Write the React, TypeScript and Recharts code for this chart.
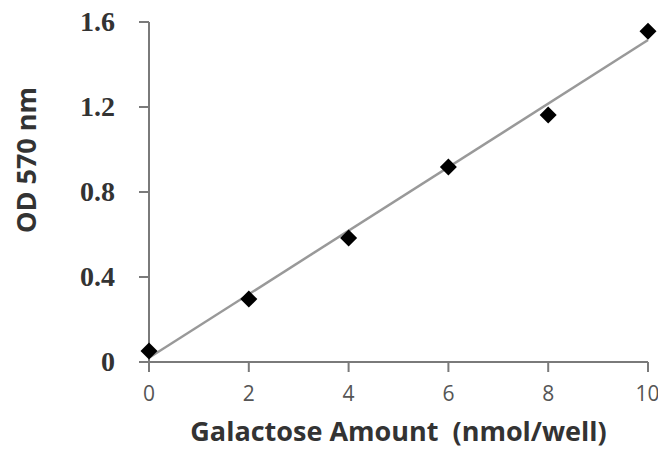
import {
  ComposedChart,
  Scatter,
  Line,
  XAxis,
  YAxis,
  Label,
} from "recharts";

const amounts = [0, 2, 4, 6, 8, 10];
const odValues = [0.052, 0.296, 0.583, 0.918, 1.162, 1.557];
const trendX = [0, 10];
const trendY = [0.02, 1.515];
const xTicks = [0, 2, 4, 6, 8, 10];
const yTicks = [0, 0.4, 0.8, 1.2, 1.6];

const points = amounts.map((x, i) => ({ x, y: odValues[i] }));
const trend = trendX.map((x, i) => ({ x, y: trendY[i] }));

/** Filled square diamond marker. */
function Diamond({ cx, cy }: any) { // eslint-disable-line @typescript-eslint/no-explicit-any
  const r = 8.5;
  return (
    <polygon
      points={`${cx},${cy - r} ${cx + r},${cy} ${cx},${cy + r} ${cx - r},${cy}`}
      fill="#000"
    />
  );
}

const axisColor = "#7a7a7a";
const titleFont = "'Open Sans', sans-serif";

function YTick({ x, y, payload }: any) { // eslint-disable-line @typescript-eslint/no-explicit-any
  return (
    <text
      x={x}
      y={y}
      dy={9}
      textAnchor="end"
      fontFamily="'Liberation Serif', serif"
      fontWeight="bold"
      fontSize={28}
      fill="#333"
    >
      {payload.value === 0 ? "0" : payload.value.toFixed(1)}
    </text>
  );
}

// Y title sits a bit above the plot's middle, like the original
function YTitle({ viewBox }: any) { // eslint-disable-line @typescript-eslint/no-explicit-any
  const cx = viewBox.x + 25;
  const cy = viewBox.y + viewBox.height / 2 - 32;
  return (
    <text
      x={cx}
      y={cy}
      transform={`rotate(-90, ${cx}, ${cy})`}
      textAnchor="middle"
      dominantBaseline="central"
      fontFamily={titleFont}
      fontWeight="bold"
      fontSize={27}
      fill="#333"
    >
      OD 570 nm
    </text>
  );
}

export default function App() {
  return (
    <div style={{ position: "absolute", left: 0, top: 0, background: "#fff" }}>
      <ComposedChart
        width={658}
        height={450}
        margin={{ top: 22, right: 10, left: 0, bottom: 0 }}
      >
        <XAxis
          type="number"
          dataKey="x"
          domain={[0, 10]}
          ticks={xTicks}
          height={88}
          stroke={axisColor}
          strokeWidth={2}
          tickSize={10}
          tickMargin={14}
          tick={{ fontSize: 21, fill: "#555", fontFamily: titleFont }}
        >
          <Label
            value={"Galactose Amount\u00a0\u00a0(nmol/well)"}
            position="insideBottom"
            offset={9}
            style={{
              fontSize: 27,
              fontWeight: "bold",
              fill: "#333",
              fontFamily: titleFont,
            }}
          />
        </XAxis>
        <YAxis
          type="number"
          dataKey="y"
          domain={[0, 1.6]}
          ticks={yTicks}
          width={149}
          stroke={axisColor}
          strokeWidth={2}
          tickSize={10}
          tickMargin={24}
          tick={<YTick />}
        >
          <Label content={<YTitle />} />
        </YAxis>
        <Line
          data={trend}
          dataKey="y"
          stroke="#999"
          strokeWidth={2.5}
          dot={false}
          isAnimationActive={false}
        />
        <Scatter
          data={points}
          dataKey="y"
          shape={<Diamond />}
          isAnimationActive={false}
        />
      </ComposedChart>
    </div>
  );
}
